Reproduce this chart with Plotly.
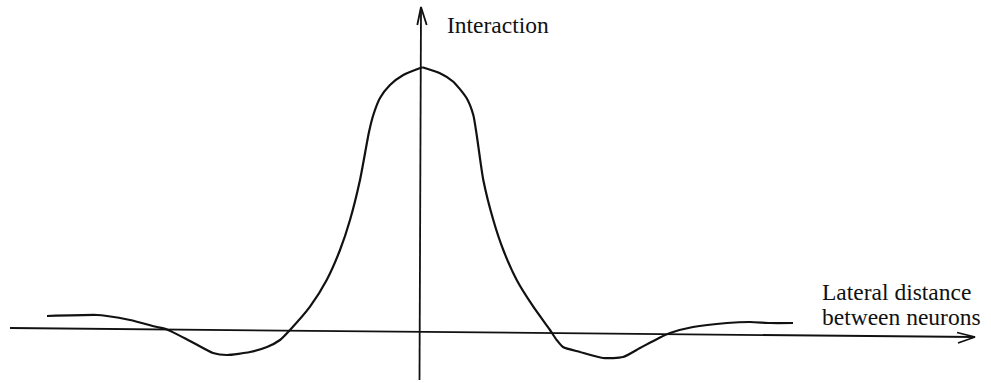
import plotly.graph_objects as go

# Lateral interaction profile ("Mexican hat"), in arbitrary units
distance = [-3.73, -3.23, -3.13, -2.90, -2.63, -2.53, -2.30, -2.07, -1.93, -1.70,
            -1.53, -1.40, -1.30, -1.10, -0.933, -0.80, -0.70, -0.60, -0.51, -0.467,
            -0.40, -0.30, -0.167, 0.023, 0.20, 0.333, 0.467, 0.533, 0.567, 0.633,
            0.733, 0.833, 0.967, 1.133, 1.30, 1.367, 1.43, 1.60, 1.83, 2.03,
            2.20, 2.40, 2.50, 2.73, 3.07, 3.30, 3.50, 3.73]
interaction = [0.158, 0.168, 0.158, 0.118, 0.048, 0.023, -0.092, -0.212, -0.232, -0.202,
               -0.152, -0.082, 0.018, 0.251, 0.518, 0.818, 1.118, 1.518, 1.998, 2.168,
               2.338, 2.468, 2.568, 2.645, 2.585, 2.501, 2.335, 2.168, 1.968, 1.518,
               1.118, 0.818, 0.518, 0.251, 0.018, -0.082, -0.152, -0.202, -0.262, -0.252,
               -0.162, -0.057, -0.012, 0.048, 0.088, 0.098, 0.088, 0.088]

# Axis arrows (start, end) in the same units
h_axis_x = [-4.10, 5.55]
h_axis_y = [0.038, -0.052]
v_axis_x = [-0.005, 0.010]
v_axis_y = [-0.482, 3.248]

x_label = ["Lateral distance", "between neurons"]
y_label = "Interaction"

x_range = [-4.20, 5.71]
y_range = [-0.512, 3.318]

INK = "#111111"
FONT = "Liberation Serif"

fig = go.Figure()

# axes
fig.add_trace(go.Scatter(x=h_axis_x, y=h_axis_y, mode="lines",
                         line=dict(color=INK, width=1.8), hoverinfo="skip"))
fig.add_trace(go.Scatter(x=v_axis_x, y=v_axis_y, mode="lines",
                         line=dict(color=INK, width=1.8), hoverinfo="skip"))

# open V arrowheads at the axis ends
hx, hy = h_axis_x[1], h_axis_y[1]
fig.add_trace(go.Scatter(x=[hx - 0.18, hx, hx - 0.17], y=[hy + 0.045, hy, hy - 0.06],
                         mode="lines", line=dict(color=INK, width=1.8), hoverinfo="skip"))
vx, vy = v_axis_x[1], v_axis_y[1]
fig.add_trace(go.Scatter(x=[vx - 0.037, vx, vx + 0.057], y=[vy - 0.18, vy, vy - 0.18],
                         mode="lines", line=dict(color=INK, width=1.8), hoverinfo="skip"))

# interaction curve: two smooth halves meeting in a sharp peak
peak = interaction.index(max(interaction))
for xs, ys in ((distance[:peak + 1], interaction[:peak + 1]),
               (distance[peak:], interaction[peak:])):
    fig.add_trace(go.Scatter(x=xs, y=ys, mode="lines",
                             line=dict(color=INK, width=2.2, shape="spline", smoothing=0.6),
                             hoverinfo="skip"))

label_font = dict(family=FONT, size=23.5, color=INK)
fig.add_annotation(x=0.25, y=3.07, text=y_label, showarrow=False,
                   xanchor="left", yanchor="middle", font=label_font)
fig.add_annotation(x=4.00, y=0.398, text=x_label[0], showarrow=False,
                   xanchor="left", yanchor="middle", font=label_font)
fig.add_annotation(x=4.00, y=0.148, text=x_label[1], showarrow=False,
                   xanchor="left", yanchor="middle", font=label_font)

fig.update_layout(
    width=991, height=383,
    margin=dict(l=0, r=0, t=0, b=0),
    paper_bgcolor="white", plot_bgcolor="white",
    showlegend=False,
    xaxis=dict(range=x_range, visible=False, fixedrange=True),
    yaxis=dict(range=y_range, visible=False, fixedrange=True),
)

fig.write_html("out.html")
